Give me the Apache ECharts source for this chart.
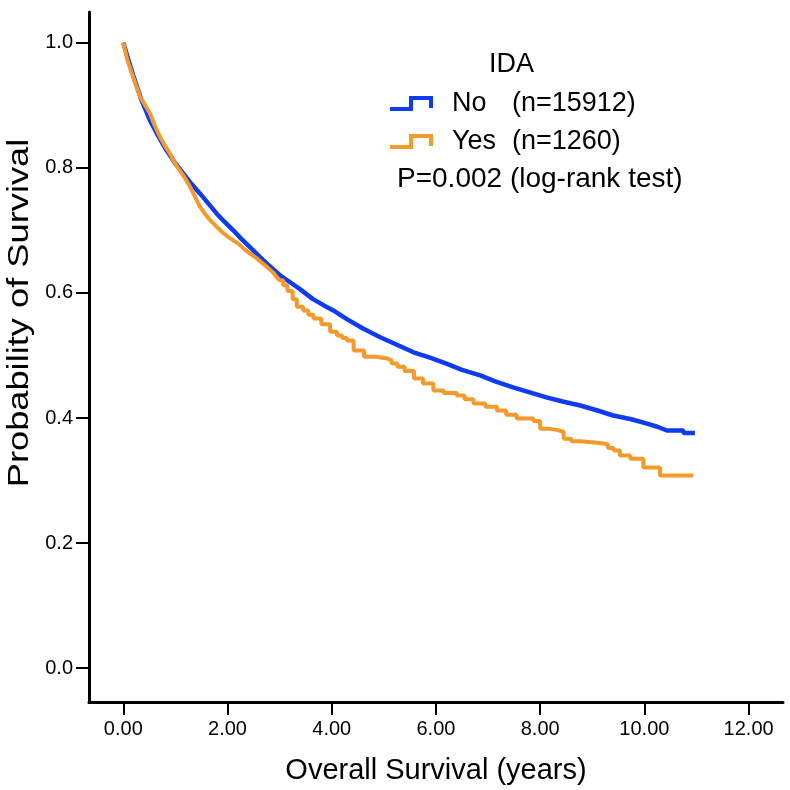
<!DOCTYPE html>
<html>
<head>
<meta charset="utf-8">
<script src="https://cdn.jsdelivr.net/npm/echarts@6/dist/echarts.min.js"></script>
<style>html,body{margin:0;padding:0;background:#fff}#c{width:790px;height:790px}</style>
</head>
<body>
<div id="c"></div>
<script>
// ---- data ----
const xTicks = [0, 2, 4, 6, 8, 10, 12];
const yTicks = [0, 0.2, 0.4, 0.6, 0.8, 1.0];

// IDA = No : dense events, drawn as a continuous curve (small step at the very end)
const noTime = [0, 0.1, 0.2, 0.35, 0.51, 0.67, 0.83, 0.99, 1.15, 1.31, 1.47, 1.63, 1.79, 1.95, 2.11, 2.27, 2.43, 2.59, 2.75, 3.01, 3.2, 3.39, 3.64, 3.85, 4.03, 4.29, 4.6, 4.93, 5.25, 5.57, 5.9, 6.2, 6.5, 6.85, 7.15, 7.48, 7.8, 8.12, 8.45, 8.77, 9.1, 9.4, 9.75, 10.05, 10.25, 10.43, 10.75, 10.75, 10.97];
const noSurv = [1.0, 0.972, 0.945, 0.908, 0.876, 0.851, 0.828, 0.808, 0.791, 0.774, 0.759, 0.743, 0.727, 0.713, 0.700, 0.686, 0.673, 0.660, 0.647, 0.628, 0.617, 0.606, 0.590, 0.580, 0.572, 0.558, 0.543, 0.529, 0.517, 0.505, 0.496, 0.487, 0.477, 0.468, 0.458, 0.449, 0.441, 0.433, 0.426, 0.420, 0.412, 0.404, 0.398, 0.391, 0.386, 0.380, 0.380, 0.376, 0.376];

// IDA = Yes : early part reads as a continuous (wavy) curve
const yesCurveTime = [0, 0.08, 0.16, 0.24, 0.32, 0.42, 0.51, 0.6, 0.7, 0.8, 0.9, 0.96, 1.05, 1.15, 1.28, 1.38, 1.47, 1.58, 1.68, 1.79, 1.9, 2.0, 2.11, 2.22, 2.32, 2.43, 2.55, 2.65, 2.75, 2.88, 3.0];
const yesCurveSurv = [1.0, 0.972, 0.952, 0.933, 0.914, 0.9, 0.887, 0.868, 0.85, 0.835, 0.822, 0.812, 0.8, 0.788, 0.77, 0.753, 0.738, 0.725, 0.715, 0.706, 0.697, 0.69, 0.684, 0.678, 0.67, 0.663, 0.656, 0.649, 0.642, 0.632, 0.62];
// IDA = Yes : later part shows visible steps (value holds until the next time)
const yesStepTime = [3.0, 3.07, 3.15, 3.25, 3.33, 3.45, 3.55, 3.65, 3.8, 3.97, 4.1, 4.2, 4.29, 4.42, 4.62, 4.85, 5.07, 5.15, 5.26, 5.4, 5.58, 5.75, 5.95, 6.15, 6.4, 6.55, 6.72, 6.95, 7.17, 7.35, 7.55, 7.87, 8.0, 8.15, 8.32, 8.45, 8.6, 8.77, 9.15, 9.3, 9.41, 9.53, 9.73, 9.98, 10.3, 10.94];
const yesStepSurv = [0.62, 0.612, 0.603, 0.59, 0.578, 0.572, 0.565, 0.559, 0.55, 0.538, 0.532, 0.528, 0.524, 0.508, 0.498, 0.495, 0.492, 0.487, 0.482, 0.475, 0.463, 0.455, 0.444, 0.44, 0.436, 0.43, 0.423, 0.418, 0.412, 0.405, 0.399, 0.395, 0.383, 0.381, 0.378, 0.367, 0.363, 0.36, 0.358, 0.352, 0.348, 0.34, 0.335, 0.321, 0.308, 0.308];

const groupNames = ['No', 'Yes'];
const groupN = ['(n=15912)', '(n=1260)'];
const legendTitle = 'IDA';
const pText = 'P=0.002 (log-rank test)';
const xTitle = 'Overall Survival (years)';
const yTitle = 'Probability of Survival';

// ---- chart ----
const FONT = 'Liberation Sans, Arial, sans-serif';
const BLUE = '#0f3cf2';
const ORANGE = '#f39a2a';
const stepIcon = 'path://M0 11 L19 11 L19 0 L43 0 L43 12 L39 12 L39 4 L23 4 L23 15 L0 15 Z';

const zip = (a, b) => a.map((v, i) => [v, b[i]]);
const noData = zip(noTime, noSurv);
const yesData = zip(yesCurveTime, yesCurveSurv);
for (let i = 1; i < yesStepTime.length; i++) {
  yesData.push([yesStepTime[i], yesStepSurv[i - 1]]);
  yesData.push([yesStepTime[i], yesStepSurv[i]]);
}

const chart = echarts.init(document.getElementById('c'), null, {renderer: 'canvas'});

chart.setOption({
  animation: false,
  backgroundColor: '#fff',
  grid: {left: 89, right: 7, top: 12, bottom: 88, containLabel: false},
  xAxis: {
    type: 'value', min: -0.658, max: 12.66,
    name: xTitle, nameLocation: 'middle', nameGap: 54,
    nameTextStyle: {fontFamily: FONT, fontSize: 29, color: '#000'},
    splitLine: {show: false},
    axisLine: {onZero: false, lineStyle: {color: '#000', width: 3}},
    axisTick: {customValues: xTicks, length: 13, lineStyle: {color: '#000', width: 2}},
    axisLabel: {customValues: xTicks, margin: 17, fontFamily: FONT, fontSize: 20, color: '#000',
      formatter: v => v.toFixed(2)}
  },
  yAxis: {
    type: 'value', min: -0.054, max: 1.049,
    splitLine: {show: false},
    axisLine: {onZero: false, lineStyle: {color: '#000', width: 3}},
    axisTick: {customValues: yTicks, length: 13, lineStyle: {color: '#000', width: 2}},
    axisLabel: {customValues: yTicks, margin: 16, fontFamily: FONT, fontSize: 20, color: '#000',
      formatter: v => v.toFixed(1)}
  },
  legend: {
    orient: 'vertical', left: 390, top: 90, padding: 0,
    itemWidth: 43, itemHeight: 16, itemGap: 11,
    icon: stepIcon,
    itemStyle: {borderWidth: 0},
    selectedMode: false,
    data: groupNames,
    formatter: name => {
      const i = groupNames.indexOf(name);
      return '{a|' + name + '}{b|' + groupN[i] + '}';
    },
    textStyle: {
      fontFamily: FONT, fontSize: 27, color: '#000',
      rich: {
        a: {fontFamily: FONT, fontSize: 27, color: '#000', width: 60, padding: [0, 0, 0, 14], lineHeight: 30},
        b: {fontFamily: FONT, fontSize: 27, color: '#000', lineHeight: 30}
      }
    }
  },
  graphic: [
    {type: 'text', left: 489, top: 51, style: {text: legendTitle, font: '27px ' + FONT, fill: '#000'}},
    {type: 'text', left: 397, top: 165, style: {text: pText, font: '28px ' + FONT, fill: '#000'}},
    {type: 'text', x: 20, y: 313, rotation: Math.PI / 2, scaleX: 1.25,
      style: {text: yTitle, font: '29px ' + FONT, fill: '#000', align: 'center', verticalAlign: 'middle'}}
  ],
  series: [
    {name: groupNames[0], type: 'line', data: noData, showSymbol: false, symbol: 'none',
      color: BLUE, lineStyle: {color: BLUE, width: 4.5}, z: 2},
    {name: groupNames[1], type: 'line', data: yesData, showSymbol: false, symbol: 'none',
      color: ORANGE, lineStyle: {color: ORANGE, width: 4}, z: 3}
  ]
});
</script>
</body>
</html>
